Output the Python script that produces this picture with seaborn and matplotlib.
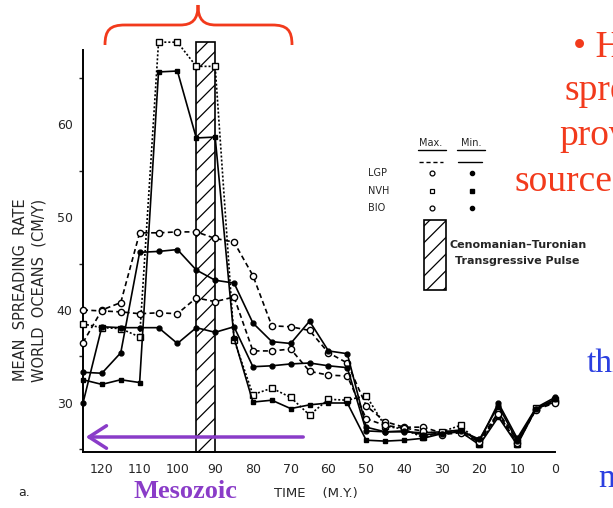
import numpy as np
import pandas as pd
import matplotlib
matplotlib.use("Agg")
import matplotlib.pyplot as plt
from matplotlib.path import Path
from matplotlib.patches import PathPatch, Rectangle, FancyArrowPatch
from matplotlib.lines import Line2D
import seaborn as sns

# ---- data: mean spreading rate of the world oceans (cm/y) vs. time (m.y.) ----
time_my = [125, 120, 115, 110, 105, 100, 95, 90, 85, 80, 75, 70, 65, 60, 55,
           50, 45, 40, 35, 30, 25, 20, 15, 10, 5, 0]

lgp_max = [36.5, 40.0, 40.8, 48.3, 48.3, 48.4, 48.4, 47.7, 47.3, 43.7, 38.3, 38.2, 37.8, 35.4, 34.3,
           29.7, 28.0, 27.4, 27.4, 26.8, 27.0, 26.0, 29.0, 26.0, 29.4, 30.2]
lgp_min = [33.3, 33.2, 35.4, 46.2, 46.3, 46.5, 44.3, 43.2, 42.9, 38.6, 36.6, 36.4, 38.8, 35.6, 35.3,
           27.4, 26.9, 26.9, 26.8, 26.9, 27.1, 25.9, 30.0, 26.2, 29.5, 30.6]
nvh_max = [38.5, 38.1, 38.0, 37.1, 68.8, 68.8, 66.2, 66.2, 36.8, 30.9, 31.6, 30.6, 28.7, 30.4, 30.3,
           30.8, 27.5, 27.2, 26.3, 26.9, 27.6, 25.6, 28.8, 25.6, 29.5, 30.3]
nvh_min = [32.5, 32.0, 32.5, 32.2, 65.6, 65.7, 58.5, 58.6, 37.0, 30.1, 30.3, 29.4, 29.8, 30.0, 30.0,
           26.0, 25.9, 26.0, 26.2, 26.7, 26.9, 25.5, 28.5, 25.5, 29.4, 30.1]
bio_max = [40.0, 39.9, 39.8, 39.6, 39.7, 39.6, 41.3, 40.9, 41.4, 35.6, 35.6, 35.8, 33.4, 33.0, 32.9,
           28.3, 27.6, 27.3, 27.0, 26.6, 26.8, 25.8, 28.8, 25.7, 29.3, 30.0]
bio_min = [30.0, 38.2, 38.1, 38.1, 38.1, 36.4, 38.1, 37.6, 38.2, 33.9, 34.0, 34.2, 34.3, 34.0, 33.8,
           27.0, 26.9, 27.0, 26.6, 26.7, 27.0, 26.1, 29.7, 25.9, 29.4, 30.4]

series_names = ["LGP max", "LGP min", "NVH max", "NVH min", "BIO max", "BIO min"]
series_values = [lgp_max, lgp_min, nvh_max, nvh_min, bio_max, bio_min]

x_ticks = [120, 110, 100, 90, 80, 70, 60, 50, 40, 30, 20, 10, 0]
y_ticks = [30, 40, 50, 60]
pulse_span = (95, 90)

frames = []
for name, vals in zip(series_names, series_values):
    frames.append(pd.DataFrame({"time": time_my, "rate": vals, "series": name}))
df = pd.concat(frames, ignore_index=True)

styles = {
    "LGP max": dict(dashes=(3, 2), marker="o", mfc="white", ms=4.5),
    "LGP min": dict(dashes=(), marker="o", mfc="black", ms=3.5),
    "NVH max": dict(dashes=(1.2, 1.2), marker="s", mfc="white", ms=4.5),
    "NVH min": dict(dashes=(), marker="s", mfc="black", ms=3.5),
    "BIO max": dict(dashes=(3, 2), marker="o", mfc="white", ms=4.5),
    "BIO min": dict(dashes=(), marker="o", mfc="black", ms=3.5),
}

sns.set_style("white")
plt.rcParams["font.family"] = ["DejaVu Sans"]
plt.rcParams["hatch.linewidth"] = 0.9

W, H = 613, 508
fig = plt.figure(figsize=(W / 100, H / 100), dpi=100)
ax = fig.add_axes([83 / W, 1 - 452 / H, (555 - 83) / W, (452 - 50) / H])


def fx(px):
    return px / W


def fy(py):
    return 1 - py / H


for name in series_names:
    st = styles[name]
    sub = df[df["series"] == name]
    sns.lineplot(data=sub, x="time", y="rate", ax=ax, color="black", lw=1.2,
                 estimator=None, sort=False, legend=False,
                 marker=st["marker"], markersize=st["ms"],
                 markerfacecolor=st["mfc"], markeredgecolor="black",
                 markeredgewidth=1.0, dashes=False)
    line = ax.lines[-1]
    line.set_clip_on(False)
    line.set_zorder(3)
    if st["dashes"]:
        line.set_dashes(st["dashes"])

# Cenomanian-Turonian transgressive pulse
ax.add_patch(Rectangle((pulse_span[1], 24.73), pulse_span[0] - pulse_span[1], 68.8 - 24.73,
                       facecolor="none", edgecolor="black", hatch="//", lw=1.2,
                       clip_on=False, zorder=1))

ax.set_xlim(125, 0)
ax.set_ylim(24.73, 67.96)
ax.set_xticks(x_ticks)
ax.set_yticks(y_ticks)
ax.set_yticks([25, 35, 45, 55, 65], minor=True)
ax.tick_params(axis="x", direction="in", length=4, width=1, labelsize=9, pad=8)
ax.tick_params(axis="y", direction="out", length=4, width=1, labelsize=9)
ax.tick_params(axis="y", which="minor", direction="out", length=3, width=1, left=True)
for s in ["top", "right"]:
    ax.spines[s].set_visible(False)
for s in ["left", "bottom"]:
    ax.spines[s].set_linewidth(1.4)
    ax.spines[s].set_color("black")
ax.set_xlabel("")
ax.set_ylabel("")

# axis titles
fig.text(fx(30), fy(290), "MEAN  SPREADING  RATE\nWORLD  OCEANS  (CM/Y)", rotation=90,
         ha="center", va="center", fontsize=10.5, linespacing=1.25)
fig.text(fx(316), fy(493), "TIME    (M.Y.)", ha="center", va="center", fontsize=9.5)
fig.text(fx(18), fy(492), "a.", ha="left", va="center", fontsize=9)

# legend key
fig.text(fx(431), fy(143), "Max.", ha="center", va="center", fontsize=7)
fig.text(fx(471), fy(143), "Min.", ha="center", va="center", fontsize=7)
for x0, x1, ls in [(418, 446, (0, (3, 2))), (457, 485, "-")]:
    fig.add_artist(Line2D([fx(x0), fx(x1)], [fy(150), fy(150)], color="black", lw=1,
                          transform=fig.transFigure))
    fig.add_artist(Line2D([fx(x0 + 1), fx(x1 - 3)], [fy(162), fy(162)], color="black", lw=1,
                          linestyle=ls, transform=fig.transFigure))
for label, yy, mk in [("LGP", 173, "o"), ("NVH", 191, "s"), ("BIO", 208, "o")]:
    fig.text(fx(368), fy(yy), label, ha="left", va="center", fontsize=7)
    fig.add_artist(Line2D([fx(432)], [fy(yy)], marker=mk, ms=3.5, mfc="white", mec="black",
                          mew=0.9, transform=fig.transFigure))
    fig.add_artist(Line2D([fx(472)], [fy(yy)], marker=mk, ms=3, mfc="black", mec="black",
                          transform=fig.transFigure))
fig.add_artist(Rectangle((fx(424), fy(290)), fx(446) - fx(424), fy(220) - fy(290),
                         facecolor="none", edgecolor="black", hatch="//", lw=1.2,
                         transform=fig.transFigure))
fig.text(fx(449), fy(245), "Cenomanian\u2013Turonian", ha="left", va="center",
         fontsize=8, fontweight="bold")
fig.text(fx(455), fy(261), "Transgressive Pulse", ha="left", va="center",
         fontsize=8, fontweight="bold")

# slide annotations
red = "#f23a1c"
blue = "#2b3fe0"
purple = "#8a3cc8"
serif = ["Liberation Serif", "DejaVu Serif"]
fig.text(fx(573), fy(57), "\u2022 H", ha="left", va="baseline", fontsize=27, color=red, family=serif)
fig.text(fx(565), fy(100), "spre", ha="left", va="baseline", fontsize=27, color=red, family=serif)
fig.text(fx(559), fy(145), "prov", ha="left", va="baseline", fontsize=27, color=red, family=serif)
fig.text(fx(514), fy(191), "source", ha="left", va="baseline", fontsize=27, color=red, family=serif)
fig.text(fx(587), fy(372), "thi", ha="left", va="baseline", fontsize=24, color=blue, family=serif)
fig.text(fx(598), fy(487), "n", ha="left", va="baseline", fontsize=24, color=blue, family=serif)

brace = [(105, 45), (105, 30), (110, 25), (125, 25), (180, 25), (192, 25), (198, 20), (198, 5),
         (198, 20), (204, 25), (216, 25), (272, 25), (287, 25), (292, 30), (292, 45)]
codes = [Path.MOVETO, Path.CURVE4, Path.CURVE4, Path.CURVE4, Path.LINETO,
         Path.CURVE4, Path.CURVE4, Path.CURVE4, Path.CURVE4, Path.CURVE4, Path.CURVE4,
         Path.LINETO, Path.CURVE4, Path.CURVE4, Path.CURVE4]
brace_path = Path([(fx(a), fy(b)) for a, b in brace], codes)
fig.add_artist(PathPatch(brace_path, facecolor="none", edgecolor=red, lw=2,
                         transform=fig.transFigure))

fig.add_artist(FancyArrowPatch((fx(306), fy(437)), (fx(83), fy(437)),
                               arrowstyle="->,head_length=0.7,head_width=0.45",
                               mutation_scale=18, color=purple, lw=2.5,
                               transform=fig.transFigure))
fig.text(fx(133), fy(492), "Mesozoic", ha="left", va="center", fontsize=19,
         fontweight="bold", color=purple, family=serif)

fig.savefig("out.png", dpi=100, facecolor="white")
